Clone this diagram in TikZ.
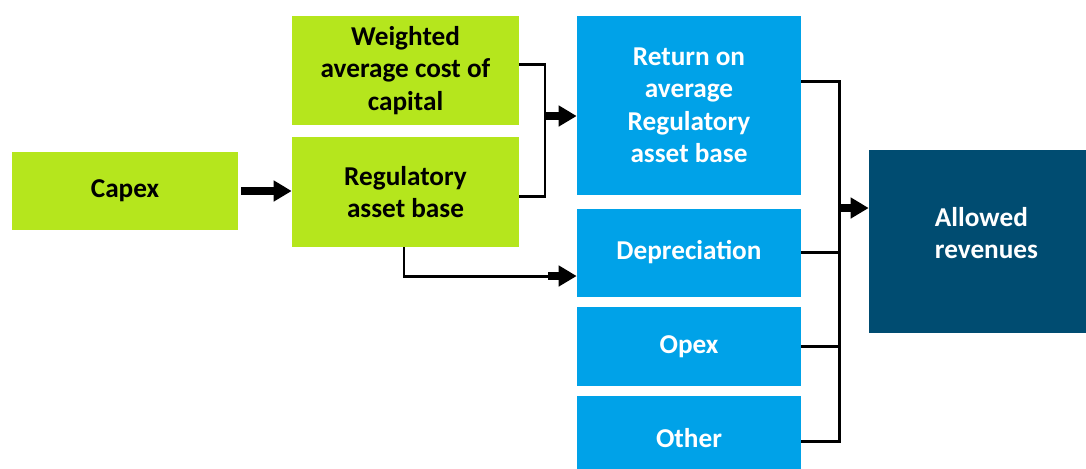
\documentclass[tikz,border=0pt]{standalone}
\usepackage{fontspec}
\setmainfont{Carlito}
\usetikzlibrary{positioning, arrows.meta}
\definecolor{limegreen}{HTML}{B5E61D}
\definecolor{skyblue}{HTML}{00A2E8}
\definecolor{navyblue}{HTML}{004C71}

\begin{document}
\begin{tikzpicture}[x=0.02cm, y=-0.02cm,
    box/.style={rectangle, inner sep=0pt, align=center, font=\fontsize{15.5}{18.5}\selectfont\bfseries},
    greenbox/.style={box, fill=limegreen, text=black},
    bluebox/.style={box, fill=skyblue, text=white},
    darkbox/.style={box, fill=navyblue, text=white, align=left},
    conn/.style={line width=1.7pt, black},
    fatarrow/.style={line width=5pt, black, -{Triangle[length=0.36cm, width=0.4cm]}}]
    \clip (0,0) rectangle (1086,468);
    % inputs
    \node[greenbox, minimum width=4.52cm, minimum height=1.56cm] (capex) at (125,191) {Capex};
    \node[greenbox, minimum width=4.54cm, minimum height=2.18cm] (wacc) at (405.5,70.5) {Weighted\\average cost of\\capital};
    \node[greenbox, minimum width=4.54cm, minimum height=2.2cm] (rab) at (405.5,192) {Regulatory\\asset base};
    % building blocks
    \node[bluebox, minimum width=4.48cm, minimum height=3.58cm] (ret) at (689,105.5) {Return on\\average\\Regulatory\\asset base};
    \node[bluebox, minimum width=4.48cm, minimum height=1.76cm] (dep) at (689,252.5) {Depreciation};
    \node[bluebox, minimum width=4.48cm, minimum height=1.58cm] (opex) at (689,346.5) {Opex};
    \node[bluebox, minimum width=4.48cm, minimum height=1.7cm] (other) at (689,438) {Other};
    \node[darkbox, minimum width=4.34cm, minimum height=3.66cm,
        label={[box, text=white, align=left, xshift=0.18cm, yshift=0.17cm]center:Allowed\\revenues}] (allowed) at (977.5,241.5) {};
    % joints
    \coordinate (bt) at (545,64);
    \coordinate (bm) at (545,116);
    \coordinate (bb) at (545,196);
    \coordinate (rd) at (404,276);
    \coordinate (rd2) at (548,276);
    \coordinate (rt) at (839,81);
    \coordinate (rm) at (839,208);
    \coordinate (rb) at (839,441);
    % connectors
    \draw[fatarrow] ([xshift=0.06cm]capex.east) -- (rab.west |- capex.east);
    \draw[conn] (wacc.east |- bt) -- (bt) -- (bb) -- (rab.east |- bb);
    \draw[fatarrow] (bm) -- (ret.west |- bm);
    \draw[conn] (rab.south -| rd) -- (rd) -- (rd2);
    \draw[fatarrow] (rd2) -- (dep.west |- rd2);
    \draw[conn] (ret.east |- rt) -- (rt) -- (rb) -- (other.east |- rb);
    \draw[conn] (dep.east) -- (dep.east -| rt);
    \draw[conn] (opex.east) -- (opex.east -| rt);
    \draw[fatarrow] (rm) -- (allowed.west |- rm);
\end{tikzpicture}
\end{document}
